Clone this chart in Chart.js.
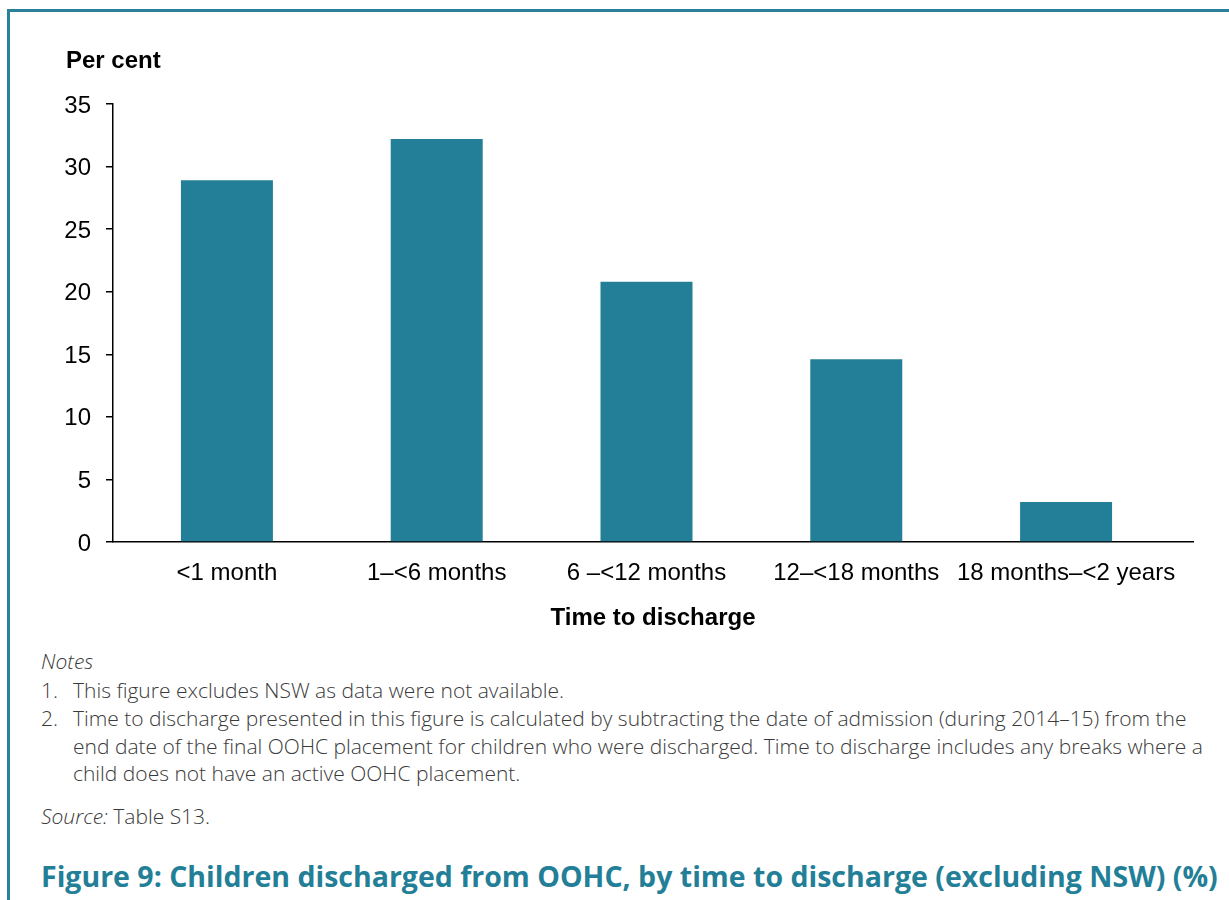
<!DOCTYPE html>
<html>
<head>
<meta charset="utf-8">
<script src="https://cdn.jsdelivr.net/npm/chart.js@4"></script>
<style>
  html, body { margin:0; padding:0; background:#fff; }
  body { width:1229px; height:900px; position:relative; overflow:hidden; }
  #frame { position:absolute; left:7px; top:9px; width:1400px; height:1000px;
           border-top:3px solid #2b8199; border-left:3px solid #2b8199; box-sizing:border-box; }
  #chartWrap { position:absolute; left:0; top:0; width:1229px; height:640px; }
  #ylabel { position:absolute; left:66px; top:48px; font:bold 24px "Liberation Sans", Arial, sans-serif; line-height:24px; color:#000; }
  .note { position:absolute; left:41px; font-family:"Open Sans", sans-serif; font-weight:300; font-size:21px; line-height:28px; color:#3a3a3a; white-space:nowrap; }
  .note .num { position:absolute; left:0; }
  .note .txt { position:absolute; left:32px; }
  #title { position:absolute; left:41px; top:862px; font-family:"Open Sans", sans-serif; font-weight:700; font-size:28.5px; line-height:28px; color:#237f97; white-space:nowrap; }
</style>
</head>
<body>
<div id="frame"></div>
<div id="chartWrap"><canvas id="c" width="1229" height="640"></canvas></div>
<div id="ylabel">Per cent</div>

<div class="note" style="top:647px;"><i>Notes</i></div>
<div class="note" style="top:676px;"><span class="num">1.</span><span class="txt">This figure excludes NSW as data were not available.</span></div>
<div class="note" style="top:704px;"><span class="num">2.</span><span class="txt">Time to discharge presented in this figure is calculated by subtracting the date of admission (during 2014–15) from the</span></div>
<div class="note" style="top:732px;"><span class="txt">end date of the final OOHC placement for children who were discharged. Time to discharge includes any breaks where a</span></div>
<div class="note" style="top:759px;"><span class="txt">child does not have an active OOHC placement.</span></div>
<div class="note" style="top:802px;"><i>Source:</i> Table S13.</div>

<div id="title">Figure 9: Children discharged from OOHC, by time to discharge (excluding NSW) (%)</div>

<script>
const categories = ['<1 month', '1–<6 months', '6 –<12 months', '12–<18 months', '18 months–<2 years'];
const values = [28.9, 32.2, 20.8, 14.6, 3.2];
const yTicks = [0, 5, 10, 15, 20, 25, 30, 35];
const xAxisTitle = 'Time to discharge';

const FONT = '"Liberation Sans", Arial, sans-serif';
const BAR = '#237f97';

new Chart(document.getElementById('c'), {
  type: 'bar',
  data: {
    datasets: [{
      data: categories.map((c, i) => ({ x: i, y: values[i] })),
      backgroundColor: BAR,
      borderWidth: 0,
      categoryPercentage: 1,
      barPercentage: 0.4385
    }]
  },
  options: {
    responsive: false,
    animation: false,
    devicePixelRatio: 1,
    layout: { padding: { left: 0, top: 104, right: 36, bottom: 0 } },
    plugins: { legend: { display: false }, tooltip: { enabled: false }, title: { display: false } },
    scales: {
      x: {
        type: 'linear',
        offset: false,
        min: -0.543,
        max: 4.605,
        ticks: {
          stepSize: 1,
          includeBounds: false,
          autoSkip: false,
          maxRotation: 0,
          padding: 17,
          color: '#000',
          font: { family: FONT, size: 24 },
          callback: (v) => (Number.isInteger(v) && categories[v] !== undefined) ? categories[v] : ''
        },
        grid: { display: false, drawTicks: false, drawOnChartArea: false },
        border: { display: true, color: '#000', width: 1.5 },
        title: { display: true, text: xAxisTitle, color: '#000', font: { family: FONT, size: 24, weight: 'bold' }, padding: { top: 0, bottom: 7 } },
        afterFit: (s) => { s.height = 98; }
      },
      y: {
        min: yTicks[0],
        max: yTicks[yTicks.length - 1],
        afterBuildTicks: (s) => { s.ticks = yTicks.map(v => ({ value: v })); },
        ticks: { color: '#000', font: { family: FONT, size: 24 }, padding: 15, labelOffset: 2 },
        grid: { drawOnChartArea: false, drawTicks: true, tickLength: 7, color: '#000', lineWidth: 1.5 },
        border: { display: true, color: '#000', width: 1.5 },
        afterFit: (s) => { s.width = 113; }
      }
    }
  }
});
</script>
</body>
</html>
